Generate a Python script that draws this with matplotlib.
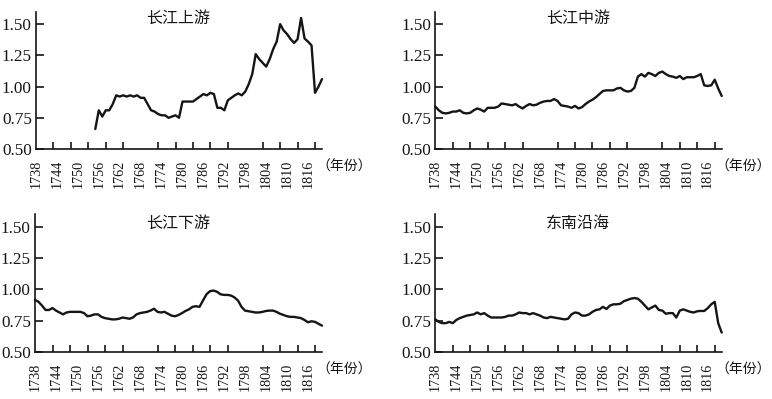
import matplotlib
matplotlib.use("Agg")
import matplotlib.pyplot as plt
import numpy as np

# ---------------- data ----------------
years = list(range(1738, 1821))
label_years = [1738, 1744, 1750, 1756, 1762, 1768, 1774, 1780, 1786, 1792, 1798, 1804, 1810, 1816]
yticks = [0.50, 0.75, 1.00, 1.25, 1.50]

titles = ["长江上游", "长江中游", "长江下游", "东南沿海"]
unit_label = "（年份）"

# 长江上游: data begins 1755
upper = [None] * 17 + [
    0.66, 0.81, 0.76, 0.81, 0.81, 0.86, 0.93, 0.92, 0.93, 0.92,   # 1755-1764
    0.93, 0.92, 0.93, 0.91, 0.91, 0.86, 0.81, 0.80, 0.78, 0.77,   # 1765-1774
    0.77, 0.75, 0.76, 0.77, 0.75, 0.88, 0.88, 0.88, 0.88, 0.90,   # 1775-1784
    0.92, 0.94, 0.93, 0.95, 0.94, 0.83, 0.83, 0.81, 0.89, 0.91,   # 1785-1794
    0.93, 0.945, 0.93, 0.96, 1.02, 1.10, 1.26, 1.22, 1.19, 1.16,  # 1795-1804
    1.22, 1.30, 1.36, 1.50, 1.45, 1.42, 1.38, 1.35, 1.38, 1.55,   # 1805-1814
    1.385, 1.36, 1.33, 0.95, 1.00, 1.06,                          # 1815-1820
]

middle = [
    0.84, 0.81, 0.79, 0.785, 0.79, 0.80, 0.80, 0.81, 0.79, 0.785,   # 1738-1747
    0.79, 0.81, 0.825, 0.815, 0.80, 0.83, 0.83, 0.83, 0.84, 0.865,  # 1748-1757
    0.86, 0.855, 0.85, 0.86, 0.84, 0.825, 0.845, 0.86, 0.85, 0.855, # 1758-1767
    0.87, 0.88, 0.885, 0.885, 0.90, 0.885, 0.85, 0.845, 0.84, 0.83, # 1768-1777
    0.845, 0.825, 0.835, 0.86, 0.88, 0.895, 0.915, 0.94, 0.965, 0.97, # 1778-1787
    0.97, 0.97, 0.985, 0.99, 0.97, 0.96, 0.965, 0.99, 1.08, 1.10,   # 1788-1797
    1.08, 1.11, 1.10, 1.085, 1.11, 1.12, 1.10, 1.085, 1.08, 1.07,   # 1798-1807
    1.085, 1.06, 1.075, 1.075, 1.075, 1.085, 1.10, 1.01, 1.005, 1.01, # 1808-1817
    1.055, 0.985, 0.925,                                            # 1818-1820
]

lower = [
    0.915, 0.90, 0.87, 0.835, 0.835, 0.85, 0.83, 0.815, 0.80, 0.815, # 1738-1747
    0.82, 0.82, 0.82, 0.82, 0.81, 0.785, 0.79, 0.80, 0.80, 0.78,     # 1748-1757
    0.77, 0.765, 0.76, 0.76, 0.765, 0.775, 0.77, 0.765, 0.775, 0.80, # 1758-1767
    0.81, 0.815, 0.82, 0.83, 0.845, 0.82, 0.815, 0.82, 0.805, 0.79,  # 1768-1777
    0.785, 0.795, 0.81, 0.827, 0.84, 0.86, 0.865, 0.86, 0.91, 0.96,  # 1778-1787
    0.985, 0.99, 0.98, 0.96, 0.955, 0.955, 0.95, 0.935, 0.91, 0.86,  # 1788-1797
    0.83, 0.825, 0.82, 0.815, 0.815, 0.82, 0.827, 0.83, 0.83, 0.82,  # 1798-1807
    0.805, 0.795, 0.785, 0.78, 0.78, 0.775, 0.77, 0.755, 0.737, 0.745, # 1808-1817
    0.74, 0.725, 0.71,                                               # 1818-1820
]

southeast = [
    0.76, 0.74, 0.73, 0.73, 0.74, 0.73, 0.755, 0.77, 0.78, 0.79,     # 1738-1747
    0.795, 0.80, 0.815, 0.80, 0.81, 0.79, 0.775, 0.775, 0.775, 0.775, # 1748-1757
    0.78, 0.79, 0.79, 0.80, 0.815, 0.81, 0.81, 0.80, 0.81, 0.80,     # 1758-1767
    0.79, 0.775, 0.77, 0.78, 0.775, 0.77, 0.765, 0.76, 0.765, 0.80,  # 1768-1777
    0.815, 0.81, 0.79, 0.79, 0.80, 0.82, 0.835, 0.84, 0.86, 0.843,   # 1778-1787
    0.87, 0.88, 0.88, 0.885, 0.905, 0.915, 0.925, 0.93, 0.925, 0.90, # 1788-1797
    0.87, 0.84, 0.855, 0.87, 0.835, 0.83, 0.805, 0.81, 0.81, 0.775,  # 1798-1807
    0.83, 0.84, 0.83, 0.82, 0.815, 0.825, 0.827, 0.827, 0.85, 0.88,  # 1808-1817
    0.90, 0.73, 0.655,                                               # 1818-1820
]

series = [upper, middle, lower, southeast]

# ---------------- figure ----------------
W, H = 772, 399
fig = plt.figure(figsize=(W / 100, H / 100), dpi=100)

SERIF = "Liberation Serif"
CJK = ["Noto Sans CJK SC", "DejaVu Sans"]

boxes = [  # left, top, right, bottom in pixels
    (36, 11.7, 322, 149),
    (435.3, 11.7, 721.7, 149),
    (35, 214, 322, 352),
    (435.3, 214, 721.7, 352),
]
title_y = [0.955, 0.955, 0.93, 0.93]

minor_years = list(range(1743, 1820, 5))

for i, (box, vals, title) in enumerate(zip(boxes, series, titles)):
    l, t, r, b = box
    ax = fig.add_axes([l / W, 1 - b / H, (r - l) / W, (b - t) / H])
    y = np.array([np.nan if v is None else v for v in vals], dtype=float)
    ax.plot(years, y, color="#151515", lw=1.7, solid_joinstyle="round",
            solid_capstyle="round", clip_on=False)
    ax.set_xlim(1738, 1820)
    ax.set_ylim(0.5, 1.6)
    for s in ("top", "right"):
        ax.spines[s].set_visible(False)
    for s in ("left", "bottom"):
        ax.spines[s].set_linewidth(1.2)
        ax.spines[s].set_color("#151515")

    ax.set_yticks(yticks)
    ax.set_yticklabels([f"{v:.2f}" for v in yticks], fontfamily=SERIF, fontsize=12.3)
    ax.set_xticks(label_years)
    ax.set_xticklabels([str(v) for v in label_years], fontfamily=SERIF,
                       fontsize=10.2, rotation=90)
    ax.set_xticks(minor_years, minor=True)
    ax.tick_params(axis="x", which="major", length=0, pad=8, colors="#151515")
    ax.tick_params(axis="x", which="minor", length=5, width=1.2,
                   direction="in", colors="#151515")
    ax.tick_params(axis="y", length=6, width=1.2, direction="in", pad=3,
                   colors="#151515")

    ax.text(0.497, title_y[i], title, transform=ax.transAxes, ha="center",
            va="center", fontsize=11.5, family=CJK, color="#151515")
    ax.text(0.979, -0.131, unit_label, transform=ax.transAxes, ha="left",
            va="center", fontsize=10, family=CJK, color="#151515")

fig.savefig("out.png", dpi=100)
